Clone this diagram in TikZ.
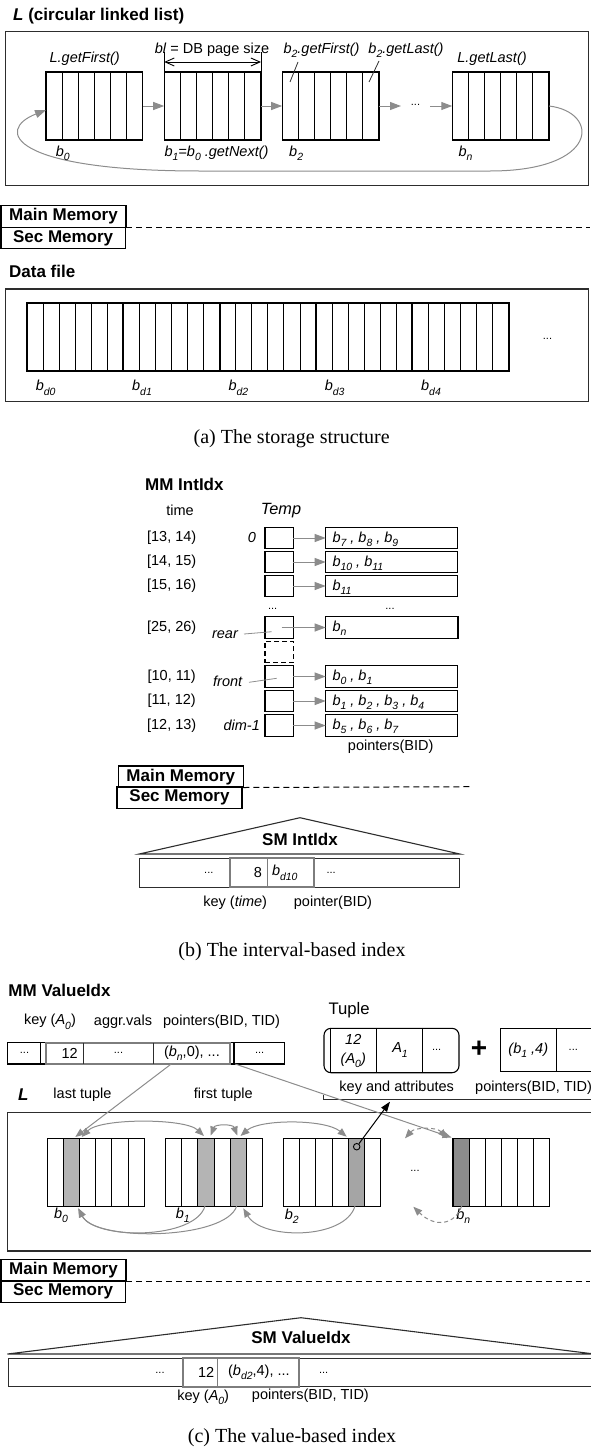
\documentclass[tikz,border=0pt]{standalone}
\usepackage{fontspec}
\setmainfont{Liberation Sans}
\newfontfamily\capfont{Liberation Serif}
\usepackage{graphicx}
\usetikzlibrary{calc,arrows.meta}
\definecolor{agray}{RGB}{140,140,140}
\definecolor{kgray}{RGB}{125,125,125}
\definecolor{lgray}{RGB}{180,180,180}
\definecolor{mgray}{RGB}{165,165,165}
\definecolor{dgray}{RGB}{140,140,140}
\definecolor{edge}{RGB}{45,45,45}
\newcommand\lsub[1]{\raisebox{-0.55ex}{\scalebox{0.72}{#1}}}
\newcommand\blkcols[1]{\foreach \i in {1,...,5}{\draw[colline] ($(#1.north west)!\i/6!(#1.north east)$) -- ($(#1.south west)!\i/6!(#1.south east)$);}}
\newcommand\colfill[4]{\filldraw[fill=#4, draw=black, line width=1pt] ($(#1.north west)!#2/6!(#1.north east)$) rectangle ($(#1.south west)!#3/6!(#1.south east)$);}
\begin{document}
\begin{tikzpicture}[x=1pt,y=-1pt,
  txt/.style={font=\fontsize{14.5}{17}\selectfont, inner sep=0pt},
  itx/.style={font=\fontsize{14.5}{17}\selectfont\itshape, inner sep=0pt},
  ttl/.style={font=\fontsize{17}{20}\selectfont\bfseries, inner sep=0pt},
  captext/.style={font=\fontsize{20}{24}\selectfont\capfont, inner sep=0pt, anchor=base},
  boxframe/.style={draw=edge, line width=1.1pt},
  blockbox/.style={draw=black, line width=1.2pt, minimum width=96.8pt, minimum height=68pt, inner sep=0pt, outer sep=0pt},
  datab/.style={draw=black, line width=2pt, minimum width=96.32pt, minimum height=67.4pt, inner sep=0pt, outer sep=0pt},
  colline/.style={draw=black, line width=1pt},
  memb/.style={draw=black, line width=1.2pt, minimum width=125pt, minimum height=21.5pt, inner sep=0pt, outer sep=0pt, anchor=north west, font=\fontsize{17}{20}\selectfont\bfseries},
  memline/.style={draw=black, line width=1pt, dash pattern=on 6pt off 4pt},
  garrow/.style={draw=agray, line width=1pt, -{Triangle[length=11pt,width=8pt]}},
  gdarrow/.style={draw=agray, line width=1pt, {Triangle[length=9pt,width=7pt]}-{Triangle[length=9pt,width=7pt]}},
  gcarrow/.style={draw=agray, line width=1pt, -{Triangle[length=9pt,width=7pt]}},
  barrow/.style={draw=black, line width=1pt, -{Triangle[length=10pt,width=7pt]}},
  leader/.style={draw=edge, line width=0.8pt},
  dimline/.style={draw=black, line width=0.9pt},
  tbox/.style={draw=black, line width=1.1pt, minimum width=28.3pt, minimum height=21.5pt, inner sep=0pt, outer sep=0pt},
  pbox/.style={draw=black, line width=1.1pt, minimum width=131.6pt, minimum height=21.5pt, inner sep=0pt, outer sep=0pt},
  gbox/.style={draw=kgray, line width=2pt},
  cell/.style={draw=black, line width=1.1pt}
]
\useasboundingbox (0,0) rectangle (590,1456);

% ================= (a) =================
\node[ttl, anchor=west] (titleA) at (13,16) {\textit{L} (circular linked list)};
\draw[boxframe] (5.6,31.7) rectangle (588.3,185.7);
\node[blockbox] (a0) at (94.45,106) {};
\node[blockbox] (a1) at (212.6,106) {};
\node[blockbox] (a2) at (330.55,106) {};
\node[blockbox] (an) at (500.65,106) {};
\foreach \n in {a0,a1,a2,an}{\blkcols{\n}}
\draw[garrow] (a0.east) -- (a1.west);
\draw[garrow] (a1.east) -- (a2.west);
\coordinate (adl) at (401,106);
\coordinate (adr) at (430,106);
\node[txt, font=\fontsize{11}{13}\selectfont] (adots) at (415.5,105) {...};
\draw[garrow] (a2.east) -- (adl);
\draw[garrow] (adr) -- (an.west);
\draw[garrow] (an.east) .. controls (600,112) and (600,171) .. (490,171) -- (200,171) .. controls (10,171) and (-5,130) .. ($(a0.west)+(0,4)$);
\draw[dimline] (a1.north west) -- ++(0,-20);
\draw[dimline] (a1.north east) -- ++(0,-20);
\draw[dimline, {Straight Barb[length=9pt,width=8pt]}-{Straight Barb[length=9pt,width=8pt]}] ($(a1.north west)+(0,-10)$) -- ($(a1.north east)+(0,-10)$);
\node[itx] (lgf) at (84.7,59) {L.getFirst()};
\node[txt] (blsz) at (212,50) {\textit{bl} = DB page size};
\node[itx] (b2gf) at (321.5,50) {b\lsub{2}.getFirst()};
\node[itx] (b2gl) at (406,50) {b\lsub{2}.getLast()};
\node[itx] (lgl) at (492,59) {L.getLast()};
\coordinate (lf1) at (298,62); \coordinate (lf2) at (290,82);
\coordinate (ll1) at (379,61); \coordinate (ll2) at (369,82);
\draw[leader] (lf1) -- (lf2);
\draw[leader] (ll1) -- (ll2);
\node[itx, anchor=west] (lb0) at (55.7,153) {b\lsub{0}};
\node[itx, anchor=west] (lb1) at (164.4,153) {b\lsub{1}=b\lsub{0} .getNext()};
\node[itx, anchor=west] (lb2) at (289,153) {b\lsub{2}};
\node[itx, anchor=west] (lbn) at (458.3,153) {b\lsub{n}};

\node[memb] (mmA) at (1,205.7) {Main Memory};
\node[memb, minimum width=124.3pt] (smA) at (1,227.2) {Sec Memory};
\coordinate (mdA) at (590,227.2);
\draw[memline] (mmA.south east) -- (mdA);

\node[ttl, anchor=west] (dfile) at (9,271.7) {Data file};
\draw[boxframe] (5.6,289) rectangle (588.3,401.7);
\foreach \j in {0,...,4}{
  \node[datab] (d\j) at (27.1+96.32*\j+48.16,337) {};
  \blkcols{d\j}
  \node[itx] (ld\j) at (27.1+96.32*\j+18.6,387.7) {b\lsub{d\j}};
}
\node[txt, font=\fontsize{11}{13}\selectfont] (ddots) at (547.5,339) {...};
\node[captext] (capA) at (291.7,443.7) {(a) The storage structure};

% ================= (b) =================
\node[ttl, anchor=west] (mmint) at (145,484) {MM IntIdx};
\node[txt] (timeh) at (180,510) {time};
\node[font=\fontsize{16.3}{19}\selectfont\itshape, inner sep=0pt] (temph) at (281,510.7) {Temp};

\node[tbox] (t1) at (279.15,538) {};
\node[tbox] (t2) at (279.15,562) {};
\node[tbox] (t3) at (279.15,586) {};
\node[tbox] (t4) at (279.15,627.5) {};
\node[tbox, dashed, dash pattern=on 5pt off 3pt] (tdash) at (279.15,652) {};
\node[tbox] (t5) at (279.15,676.5) {};
\node[tbox] (t6) at (279.15,701) {};
\node[tbox] (t7) at (279.15,725.5) {};

\node[pbox] (p1) at (391.5,538) {};
\node[pbox] (p2) at (391.5,562) {};
\node[pbox] (p3) at (391.5,586) {};
\node[pbox, minimum width=132.3pt] (p4) at (391.85,627.5) {};
\node[pbox] (p5) at (391.5,676.5) {};
\node[pbox] (p6) at (391.5,701) {};
\node[pbox] (p7) at (391.5,725.5) {};

\draw[garrow] (t1.east) -- (p1.west);
\draw[garrow] (t2.east) -- (p2.west);
\draw[garrow] (t3.east) -- (p3.west);
\draw[garrow] ($(t4.center)+(2.5,0)$) -- (p4.west);
\draw[garrow] (t5.east) -- (p5.west);
\draw[garrow] (t6.east) -- (p6.west);
\draw[garrow] (t7.east) -- (p7.west);

\node[txt] (tl1) at (171.7,538) {[13, 14)};
\node[txt] (tl2) at (171.7,562) {[14, 15)};
\node[txt] (tl3) at (171.7,586) {[15, 16)};
\node[txt] (tl4) at (171.7,627.5) {[25, 26)};
\node[txt] (tl5) at (171.7,676.5) {[10, 11)};
\node[txt] (tl6) at (171.7,701) {[11, 12)};
\node[txt] (tl7) at (171.7,725.5) {[12, 13)};

\node[itx, anchor=west] (pt1) at (332.3,539) {b\lsub{7} , b\lsub{8} , b\lsub{9}};
\node[itx, anchor=west] (pt2) at (332.3,563) {b\lsub{10} , b\lsub{11}};
\node[itx, anchor=west] (pt3) at (332.3,587) {b\lsub{11}};
\node[itx, anchor=west] (pt4) at (332.3,628.5) {b\lsub{n}};
\node[itx, anchor=west] (pt5) at (332.3,677.5) {b\lsub{0} , b\lsub{1}};
\node[itx, anchor=west] (pt6) at (332.3,702) {b\lsub{1} , b\lsub{2} , b\lsub{3} , b\lsub{4}};
\node[itx, anchor=west] (pt7) at (332.3,726.5) {b\lsub{5} , b\lsub{6} , b\lsub{7}};

\node[itx] (zero) at (252,538) {0};
\node[itx] (rear) at (225,635) {rear};
\node[itx] (front) at (227.7,681.7) {front};
\node[itx] (dim) at (241.7,725.5) {dim-1};
\coordinate (rl1) at (244,634); \coordinate (rl2) at (271.7,631.7);
\coordinate (fl1) at (249,682.3); \coordinate (fl2) at (276.7,678.3);
\draw[leader, draw=agray] (rl1) -- (rl2);
\draw[leader, draw=agray] (fl1) -- (fl2);
\node[txt, font=\fontsize{11}{13}\selectfont] (bdots1) at (272.7,609) {...};
\node[txt, font=\fontsize{11}{13}\selectfont] (bdots2) at (390,609) {...};
\node[txt] (ptrbid) at (390.7,747) {pointers(BID)};

\node[memb] (mmB) at (118.3,766) {Main Memory};
\node[memb] (smB) at (117,786.7) {Sec Memory};
\coordinate (mdB) at (471.7,786.7);
\draw[memline] (mmB.south east) -- (mdB);

\draw[boxframe] (139.2,854) -- (300,817.7) -- (459.8,854) -- cycle;
\node[ttl] (smint) at (300,839) {SM IntIdx};
\draw[boxframe] (139.2,858.3) rectangle (459.8,887.3);
\draw[gbox] (230.3,858.3) rectangle (314.2,887.3);
\draw[draw=kgray, line width=1pt] (267.9,858.3) -- (267.9,887.3);
\node[txt, font=\fontsize{11}{13}\selectfont] (idots1) at (208.8,872.8) {...};
\node[txt] (ikey) at (257.8,872.8) {8};
\node[itx] (iptr) at (284.8,872.8) {b\lsub{d10}};
\node[txt, font=\fontsize{11}{13}\selectfont] (idots2) at (331.1,872.8) {...};
\node[txt] (keytime) at (235.2,902.7) {key (\textit{time})};
\node[txt] (ptrb) at (333,902.7) {pointer(BID)};
\node[captext] (capB) at (292,956) {(b) The interval-based index};

% ================= (c) =================
\node[ttl, anchor=west] (mmval) at (8.3,990.7) {MM ValueIdx};
\node[txt] (keya) at (50,1021.7) {key (\textit{A}\lsub{\textit{0}})};
\node[txt] (aggr) at (123,1021.7) {aggr.vals};
\node[txt] (ptrbt) at (221.6,1021.7) {pointers(BID, TID)};
\draw[cell] (7.5,1042.7) rectangle (284.1,1064);
\draw[cell] (40.6,1042.7) -- (40.6,1064);
\draw[cell] (234,1042.7) -- (234,1064);
\draw[gbox] (45.9,1042.7) rectangle (230.3,1064);
\draw[draw=edge, line width=0.9pt] (83.5,1042.7) -- (83.5,1064);
\draw[draw=edge, line width=0.9pt] (153.5,1042.7) -- (153.5,1064);
\node[txt, font=\fontsize{11}{13}\selectfont] (vd1) at (24.5,1053.3) {...};
\node[txt] (vk) at (69.6,1053.3) {12};
\node[txt, font=\fontsize{11}{13}\selectfont] (vd2) at (118.5,1053.3) {...};
\node[txt] (vp) at (191.9,1053.3) {(\textit{b}\lsub{\textit{n}},0), ...};
\node[txt, font=\fontsize{11}{13}\selectfont] (vd3) at (259.6,1053.3) {...};

\node[font=\fontsize{16.7}{19}\selectfont, inner sep=0pt, anchor=west] (tuplel) at (328.3,1010) {Tuple};
\node[draw=black, line width=1.1pt, rounded corners=7pt, minimum width=135pt, minimum height=44.4pt, inner sep=0pt] (tup) at (391.5,1050.5) {};
\draw[cell] ($(tup.north west)+(6.7,0)$) -- ($(tup.south west)+(6.7,0)$);
\draw[cell] ($(tup.north west)+(52.7,0)$) -- ($(tup.south west)+(52.7,0)$);
\draw[cell] ($(tup.north west)+(99.3,0)$) -- ($(tup.south west)+(99.3,0)$);
\node[itx] (tk1) at (353.3,1039.3) {12};
\node[itx] (tk2) at (353.3,1060) {(A\lsub{0})};
\node[itx] (ta1) at (400,1050) {A\lsub{1}};
\node[txt, font=\fontsize{11}{13}\selectfont] (tdots) at (436.7,1050) {...};
\node[font=\fontsize{28}{30}\selectfont\bfseries, inner sep=0pt] (plus) at (479,1049) {+};
\draw[cell] (500.7,1028.3) rectangle (600,1071.7);
\draw[cell] (556.7,1028.3) -- (556.7,1071.7);
\node[itx] (tp1) at (528.3,1050) {(b\lsub{1} ,4)};
\node[txt, font=\fontsize{11}{13}\selectfont] (tpdots) at (573.3,1050) {...};
\node[txt] (kattr) at (396.7,1087.3) {key and attributes};
\node[txt, anchor=west] (ptrtid) at (475,1087.3) {pointers(BID, TID)};
\draw[leader] (323.3,1095) -- (323.3,1099.3) -- (600,1099.3);

\node[font=\fontsize{17}{20}\selectfont\bfseries\itshape, inner sep=0pt] (lL) at (23.3,1095) {L};
\node[txt] (lastt) at (82.5,1095) {last tuple};
\node[txt] (firstt) at (223.3,1095) {first tuple};
\draw[boxframe] (7.3,1112.7) rectangle (600,1251);

\node[blockbox, minimum width=96.6pt] (c0) at (95.85,1172.15) {};
\node[blockbox, minimum width=96.6pt] (c1) at (214,1172.15) {};
\node[blockbox, minimum width=96.6pt] (c2) at (332,1172.15) {};
\node[blockbox, minimum width=96.6pt] (cn) at (501.3,1172.15) {};
\foreach \n in {c0,c1,c2,cn}{\blkcols{\n}}
\colfill{c0}{1}{2}{lgray}
\colfill{c1}{2}{3}{lgray}
\colfill{c1}{4}{5}{lgray}
\colfill{c2}{4}{5}{mgray}
\colfill{cn}{0}{1}{dgray}
\node[txt, font=\fontsize{11}{13}\selectfont] (cdots) at (415,1170.7) {...};
\node[itx] (lc0) at (61,1215) {b\lsub{0}};
\node[itx] (lc1) at (182.7,1215) {b\lsub{1}};
\node[itx] (lc2) at (291.7,1216) {b\lsub{2}};
\node[itx] (lcn) at (463.3,1216) {b\lsub{n}};

\coordinate (pA) at (171.2,1064);
\coordinate (pB) at (235.2,1064);
\coordinate (g0top) at (75.3,1137);
\coordinate (gntop) at (451.5,1137.5);
\draw[gcarrow] (pA) -- (g0top);
\draw[gcarrow] (pB) -- (gntop);

\coordinate (c0t) at (81.7,1137);
\coordinate (c1at) at (204,1136);
\coordinate (c1at2) at (210.7,1135.5);
\coordinate (c1bt) at (237.3,1135.5);
\coordinate (c1bt2) at (240.5,1136);
\coordinate (c2t) at (346.7,1136.7);
\coordinate (dt1) at (405,1138.3);
\coordinate (dt2) at (446.7,1138.3);
\draw[gdarrow] (c0t) .. controls (100,1118) and (185,1118) .. (c1at);
\draw[gdarrow] (c1at2) .. controls (215,1124) and (233,1124) .. (c1bt);
\draw[gdarrow] (c1bt2) .. controls (260,1119) and (325,1119) .. (c2t);
\draw[gdarrow, dashed, dash pattern=on 4pt off 3pt] (dt1) .. controls (415,1127) and (437,1127) .. (dt2);

\coordinate (c0b) at (78.3,1208.3);
\coordinate (c1ab) at (205,1206);
\coordinate (c1bb) at (236.7,1206);
\coordinate (c1bb2) at (243.3,1208.3);
\coordinate (c2b) at (355,1206);
\coordinate (cnb) at (461.7,1206);
\coordinate (db) at (413.3,1206.7);
\draw[gcarrow] (c1ab) .. controls (195,1240) and (95,1240) .. (c0b);
\draw[gcarrow] (c1bb) .. controls (226,1240) and (95,1242) .. (c0b);
\draw[gcarrow] (c2b) .. controls (345,1240) and (262,1240) .. (c1bb2);
\draw[gcarrow, dashed, dash pattern=on 4pt off 3pt] (cnb) .. controls (455,1225) and (435,1228) .. (db);

\node[circle, draw=black, line width=0.9pt, minimum size=6.5pt, inner sep=0pt] (tcirc) at (356.7,1146.7) {};
\coordinate (katt) at (390,1101.7);
\draw[barrow] (tcirc) -- (katt);

\node[memb] (mmC) at (1,1259.5) {Main Memory};
\node[memb, minimum width=124.3pt] (smC) at (1,1281) {Sec Memory};
\coordinate (mdC) at (590,1281);
\draw[memline] (mmC.south east) -- (mdC);

\draw[boxframe] (7.5,1354) -- (301,1317.7) -- (594.5,1354) -- cycle;
\node[ttl] (smval) at (301,1337.7) {SM ValueIdx};
\draw[boxframe] (8.3,1358.3) rectangle (600,1386.7);
\draw[gbox] (182.5,1358.3) rectangle (299.1,1386.7);
\draw[draw=kgray, line width=1pt] (217.5,1358.3) -- (217.5,1386.7);
\node[txt, font=\fontsize{11}{13}\selectfont] (sd1) at (160,1372.5) {...};
\node[txt] (sk) at (206.2,1372.5) {12};
\node[txt] (sp) at (258.9,1372.5) {(\textit{b}\lsub{\textit{d2}},4), ...};
\node[txt, font=\fontsize{11}{13}\selectfont] (sd2) at (323.6,1372.5) {...};
\node[txt] (skey) at (203.2,1397) {key (\textit{A}\lsub{\textit{0}})};
\node[txt] (sptr) at (310.4,1396) {pointers(BID, TID)};
\node[captext] (capC) at (292,1442) {(c) The value-based index};
\end{tikzpicture}
\end{document}
